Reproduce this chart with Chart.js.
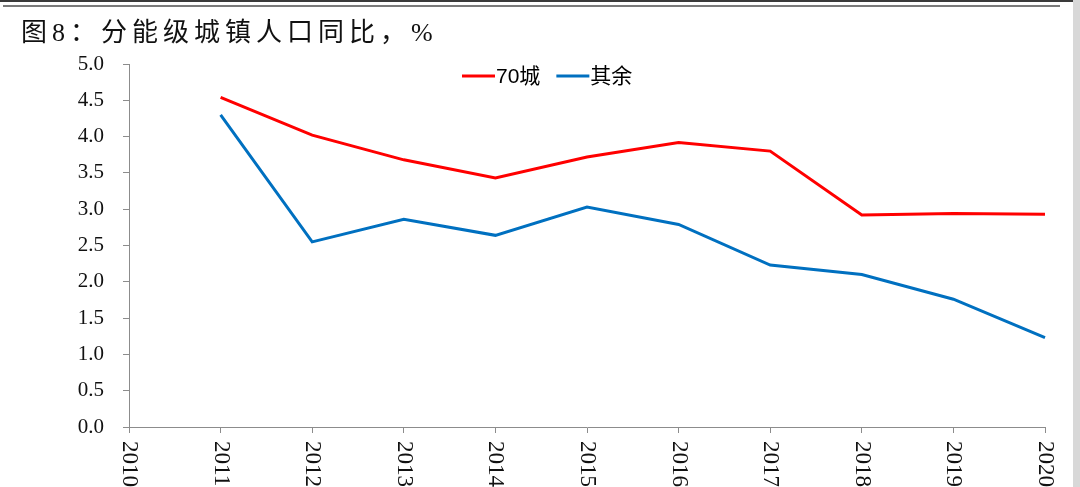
<!DOCTYPE html>
<html>
<head>
<meta charset="utf-8">
<script src="https://cdn.jsdelivr.net/npm/chart.js@4.4.1/dist/chart.umd.min.js"></script>
<style>
  html, body { margin: 0; padding: 0; background: #fff; }
  #wrap { position: relative; width: 1080px; height: 487px; overflow: hidden; }
  #topLine1 { position: absolute; left: 0; top: 0; width: 1073px; height: 2px; background: #3a3a3a; }
  #topLine2 { position: absolute; left: 3px; top: 5px; width: 1057px; height: 2px; background: #7a7a7a; }
  #edge { position: absolute; right: 0; top: 0; width: 7px; height: 487px; background: #d8d8d8; }
  #title {
    position: absolute; left: 21px; top: 11px;
    font-family: "Liberation Serif", "Noto Sans CJK SC", serif;
    font-size: 26px; letter-spacing: 5px; color: #111; white-space: nowrap;
  }
  canvas { position: absolute; left: 0; top: 0; }
</style>
</head>
<body>
<div id="wrap">
  <canvas id="chart" width="1080" height="487"></canvas>
  <div id="topLine1"></div>
  <div id="topLine2"></div>
  <div id="edge"></div>
  <div id="title">图8：分能级城镇人口同比，%</div>
</div>
<script>
// data
const years = ["2010", "2011", "2012", "2013", "2014", "2015", "2016", "2017", "2018", "2019", "2020"];
const city70 = [null, 4.54, 4.02, 3.68, 3.43, 3.72, 3.92, 3.80, 2.92, 2.94, 2.93];
const others = [null, 4.30, 2.55, 2.86, 2.64, 3.03, 2.79, 2.23, 2.10, 1.76, 1.23];
const seriesNames = ["70城", "其余"];
const yMin = 0;
const yMax = 5;
const yStep = 0.5;

const axisColor = "#8c8c8c";

// x labels are rotated clockwise (read top to bottom), so draw them here
const rotatedXLabels = {
  id: "rotatedXLabels",
  afterDraw(chart) {
    const ctx = chart.ctx;
    const xScale = chart.scales.x;
    ctx.save();
    ctx.fillStyle = "#111";
    ctx.font = '23px "Liberation Serif", serif';
    ctx.textAlign = "left";
    ctx.textBaseline = "middle";
    chart.data.labels.forEach((label, i) => {
      const x = xScale.getPixelForTick(i);
      ctx.save();
      ctx.translate(x, xScale.top + 14);
      ctx.rotate(Math.PI / 2);
      ctx.fillText(label, 0, 0);
      ctx.restore();
    });
    ctx.restore();
  },
};

// legend drawn inside the plot, like the original
const insideLegend = {
  id: "insideLegend",
  afterDraw(chart) {
    const ctx = chart.ctx;
    let x = 462;
    const y = 76;
    ctx.save();
    ctx.font = '21px "Liberation Sans", "Noto Sans CJK SC", sans-serif';
    ctx.textBaseline = "middle";
    ctx.textAlign = "left";
    chart.data.datasets.forEach((ds) => {
      ctx.strokeStyle = ds.borderColor;
      ctx.lineWidth = 3;
      ctx.beginPath();
      ctx.moveTo(x, y);
      ctx.lineTo(x + 33, y);
      ctx.stroke();
      ctx.fillStyle = "#000";
      ctx.fillText(ds.label, x + 34, y + 1);
      x += 34 + ctx.measureText(ds.label).width + 16;
    });
    ctx.restore();
  },
};

const ctx = document.getElementById("chart").getContext("2d");
new Chart(ctx, {
  type: "line",
  data: {
    labels: years,
    datasets: [
      {
        label: seriesNames[0],
        data: city70,
        borderColor: "#ff0000",
        borderWidth: 3,
        pointRadius: 0,
        tension: 0,
        fill: false,
      },
      {
        label: seriesNames[1],
        data: others,
        borderColor: "#0070c0",
        borderWidth: 3,
        pointRadius: 0,
        tension: 0,
        fill: false,
      },
    ],
  },
  options: {
    responsive: false,
    animation: false,
    layout: {
      padding: { top: 64, right: 35, left: 0, bottom: 0 },
    },
    plugins: {
      legend: { display: false },
      tooltip: { enabled: false },
    },
    scales: {
      x: {
        offset: false,
        grid: {
          drawOnChartArea: false,
          drawTicks: true,
          tickLength: 6,
          color: axisColor,
        },
        border: { color: axisColor, width: 1 },
        ticks: { display: false },
        afterFit(scale) {
          scale.height = 60;
        },
      },
      y: {
        min: yMin,
        max: yMax,
        grid: {
          drawOnChartArea: false,
          drawTicks: true,
          tickLength: 6,
          color: axisColor,
        },
        border: { color: axisColor, width: 1 },
        ticks: {
          stepSize: yStep,
          padding: 19,
          color: "#111",
          font: { family: '"Liberation Serif", serif', size: 21 },
          callback: (v) => Number(v).toFixed(1),
        },
        afterFit(scale) {
          scale.width = 129;
        },
      },
    },
  },
  plugins: [rotatedXLabels, insideLegend],
});
</script>
</body>
</html>
